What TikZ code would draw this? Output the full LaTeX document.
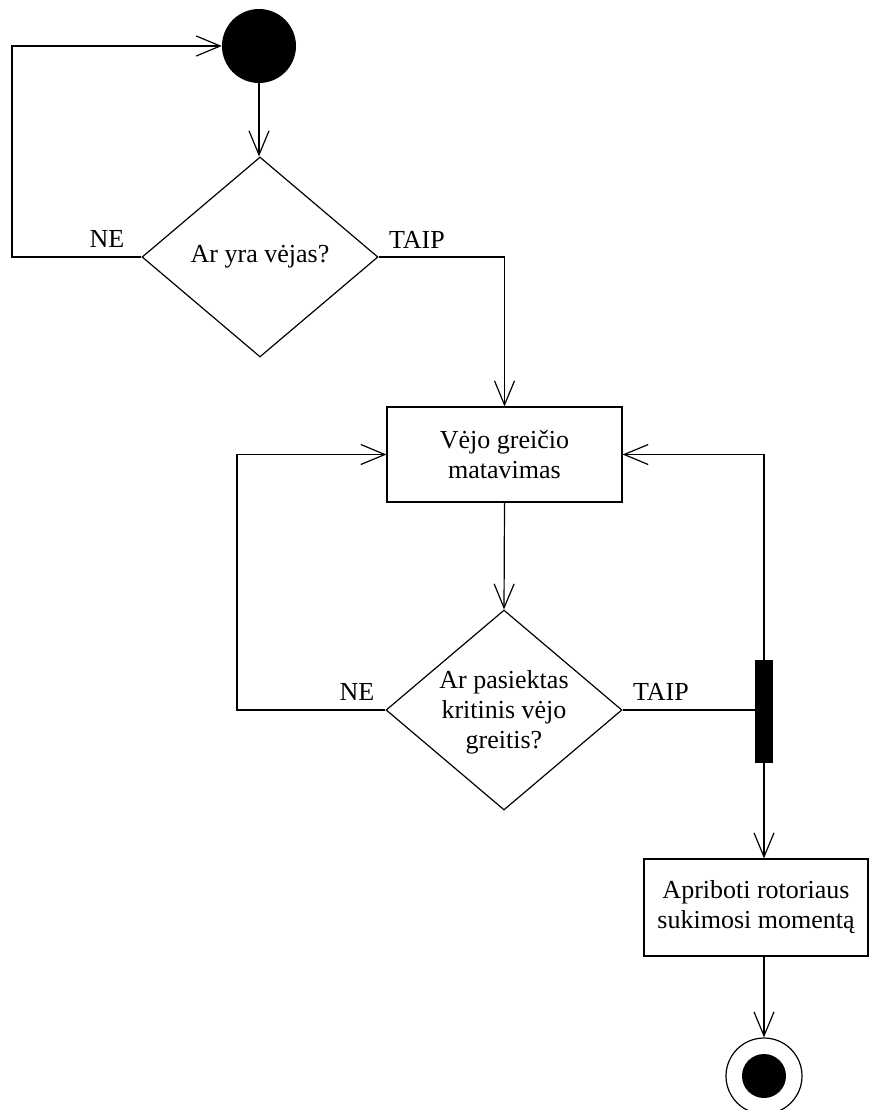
\documentclass[tikz,border=0pt]{standalone}
\usepackage{fontspec}
\setmainfont{Liberation Serif}
\usetikzlibrary{shapes.geometric,arrows.meta}
\begin{document}
\begin{tikzpicture}[x=1pt,y=-1pt,
  every node/.style={font=\fontsize{26}{30}\selectfont},
  line/.style={line width=1.2pt},
  arr/.style={line, -{Straight Barb[length=24pt,width=20pt,line width=1.2pt]}},
  box/.style={draw, line width=1.2pt, rectangle, inner sep=0pt, align=center},
  decision/.style={draw, line width=1.2pt, diamond, inner sep=0pt,
    minimum width=236pt, minimum height=200pt},
  lbl/.style={inner sep=0pt, anchor=base}
]
\fill[white] (0,0) rectangle (870,1110);
\useasboundingbox (0,0) rectangle (870,1110);

% initial and final states
\node[circle, fill=black, minimum size=74pt, inner sep=0pt] (start) at (259,46) {};
\node[circle, draw, line width=1.2pt, minimum size=76pt, inner sep=0pt,
  path picture={\fill[black] (path picture bounding box.center) circle (22pt);}]
  (end) at (764,1076) {};

% decisions
\node[decision, label={[align=center, inner sep=0pt]center:Ar yra vėjas?}] (d1) at (260,257) {};
\node[decision, label={[align=center, inner sep=0pt, yshift=-2pt]center:Ar pasiektas\\kritinis vėjo\\greitis?}] (d2) at (504,710) {};

% actions
\node[box, minimum width=235pt, minimum height=95pt] (rect1) at (504.5,454.5) {Vėjo greičio\\matavimas};
\node[box, minimum width=224pt, minimum height=97pt] (rect2) at (756,907.5) {Apriboti rotoriaus\\sukimosi momentą};

% fork bar
\node[fill=black, minimum width=18pt, minimum height=103pt, inner sep=0pt] (bar) at (764,711.5) {};

% loop corners
\coordinate (lt) at (12,46);
\coordinate (ll) at (237,454.5);

% connectors
\draw[arr] (start.south) -- (start.south |- d1.north);
\draw[arr] (d1.west) -| (lt) -- (start.west);
\draw[arr] (d1.east) -| (rect1.north);
\draw[arr] (rect1.south) -- (d2.north);
\draw[arr] (d2.west) -| (ll) -- (rect1.west);
\draw[line] (d2.east) -- (d2.east -| bar.west);
\draw[arr] (bar.north) |- (rect1.east);
\draw[arr] (bar.south) -- (bar.south |- rect2.north);
\draw[arr] (end.north |- rect2.south) -- (end.north);

% branch labels
\node[lbl] (ne1) at (107,247) {NE};
\node[lbl] (taip1) at (417,248) {TAIP};
\node[lbl] (ne2) at (357,700) {NE};
\node[lbl] (taip2) at (661,700) {TAIP};
\end{tikzpicture}
\end{document}
